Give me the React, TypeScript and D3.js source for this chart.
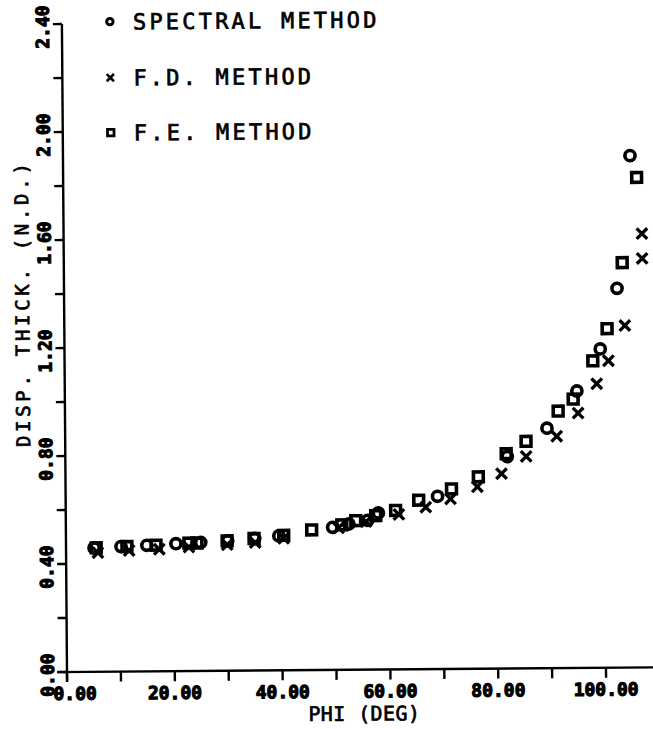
import React from "react";
import * as d3 from "d3";

const PHI_SPECTRAL = [5.2, 10.2, 15.0, 20.4, 25.0, 30.0, 35.0, 39.5, 49.5, 52.5, 56.0, 58.0, 69.0, 82.0, 89.4, 95.0, 99.4, 102.6, 105.2];
const VAL_SPECTRAL = [0.459, 0.463, 0.467, 0.472, 0.476, 0.481, 0.489, 0.498, 0.528, 0.540, 0.553, 0.580, 0.640, 0.785, 0.889, 1.026, 1.181, 1.405, 1.896];

const PHI_FD = [5.9, 11.7, 17.3, 22.8, 29.9, 35.1, 40.4, 50.6, 55.7, 61.8, 66.8, 71.4, 76.4, 80.9, 85.5, 91.2, 95.2, 98.7, 100.9, 104.0, 107.3, 107.3];
const VAL_FD = [0.441, 0.448, 0.452, 0.459, 0.467, 0.474, 0.489, 0.526, 0.548, 0.574, 0.600, 0.630, 0.674, 0.722, 0.785, 0.859, 0.944, 1.052, 1.137, 1.267, 1.515, 1.607];

const PHI_FE = [5.6, 11.3, 16.7, 22.8, 24.3, 29.9, 34.9, 40.4, 45.6, 51.2, 53.8, 57.5, 61.2, 65.5, 71.6, 76.6, 81.8, 85.5, 91.5, 94.3, 98.0, 100.7, 103.6, 106.4];
const VAL_FE = [0.459, 0.463, 0.467, 0.474, 0.474, 0.481, 0.489, 0.500, 0.519, 0.537, 0.552, 0.570, 0.589, 0.626, 0.667, 0.711, 0.796, 0.841, 0.952, 0.996, 1.137, 1.256, 1.500, 1.815];

const X_TICKS = [0, 10, 20, 30, 40, 50, 60, 70, 80, 90, 100];
const X_LABELS = ["0.00", "20.00", "40.00", "60.00", "80.00", "100.00"];
const Y_TICKS = [0, 0.2, 0.4, 0.6, 0.8, 1.0, 1.2, 1.4, 1.6, 1.8, 2.0, 2.2, 2.4];
const Y_LABELS = ["0.00", "0.40", "0.80", "1.20", "1.60", "2.00", "2.40"];

const LEGEND = ["SPECTRAL METHOD", "F.D. METHOD", "F.E. METHOD"];
const X_TITLE = "PHI (DEG)";
const Y_TITLE = "DISP. THICK. (N.D.)";

const W = 653;
const H = 729;

const x = d3.scaleLinear().domain([0, 110]).range([67, 67 + 110 * 5.39]);
const y = d3.scaleLinear().domain([0, 2.4]).range([672, 24]);

const MONO = "'DejaVu Sans Mono', 'Liberation Mono', monospace";

function Circ({ cx, cy, r = 5.1, sw = 3.6 }: any) {
  return <circle cx={cx} cy={cy} r={r} fill="none" stroke="#000" strokeWidth={sw} />;
}
function Sq({ cx, cy, s = 9.8, sw = 3.6 }: any) {
  return <rect x={cx - s / 2} y={cy - s / 2} width={s} height={s} fill="none" stroke="#000" strokeWidth={sw} />;
}
function Cross({ cx, cy, s = 5.3, sw = 3.3 }: any) {
  return (
    <g stroke="#000" strokeWidth={sw} strokeLinecap="butt">
      <line x1={cx - s} y1={cy - s} x2={cx + s} y2={cy + s} />
      <line x1={cx - s} y1={cy + s} x2={cx + s} y2={cy - s} />
    </g>
  );
}

export default function App() {
  const x0 = x(0);
  const y0 = y(0);
  return (
    <svg width={W} height={H} style={{ position: "absolute", left: 0, top: 0, background: "#fff" }}>
      <rect x={0} y={0} width={W} height={H} fill="#fff" />
      <g transform={`rotate(-0.45, ${x0}, ${y0})`}>
        {/* axes */}
        <line x1={x0 - 10} y1={y0} x2={W + 20} y2={y0} stroke="#000" strokeWidth={2.4} />
        <line x1={x0} y1={y(2.4)} x2={x0} y2={y0 + 10} stroke="#000" strokeWidth={2.4} />
        {X_TICKS.map((t) => (
          <line key={"xt" + t} x1={x(t)} x2={x(t)} y1={y0} y2={y0 + 10} stroke="#000" strokeWidth={2.4} />
        ))}
        {Y_TICKS.map((t) => (
          <line key={"yt" + t} x1={x0 - 9} x2={x0} y1={y(t)} y2={y(t)} stroke="#000" strokeWidth={2.4} />
        ))}
        {X_LABELS.map((l, i) => (
          <text
            key={"xl" + l}
            x={x(i * 20) + (i === 0 ? 8 : 0)}
            y={700}
            textAnchor="middle"
            fontFamily={MONO}
            fontWeight="bold"
            fontSize={18}
            stroke="#000"
            strokeWidth={1.1}
          >
            {l}
          </text>
        ))}
        {Y_LABELS.map((l, i) => (
          <text
            key={"yl" + l}
            transform={`translate(${x0 - 13}, ${y(i * 0.4) + 3}) rotate(-90)`}
            textAnchor="middle"
            fontFamily={MONO}
            fontWeight="bold"
            fontSize={18}
            stroke="#000"
            strokeWidth={1.1}
          >
            {l}
          </text>
        ))}
        <text x={364} y={723} textAnchor="middle" fontFamily={MONO} fontSize={20} letterSpacing={0.4} stroke="#000" strokeWidth={0.7}>
          {X_TITLE}
        </text>
        <text
          transform={`translate(32, 303) rotate(-90)`}
          textAnchor="middle"
          fontFamily={MONO}
          fontSize={19}
          letterSpacing={3.7}
          stroke="#000"
          strokeWidth={0.7}
        >
          {Y_TITLE}
        </text>

        {/* legend */}
        <Circ cx={115} cy={22} r={3.2} sw={3} />
        <Cross cx={115} cy={78} s={3.6} sw={2.6} />
        <Sq cx={115} cy={133} s={6.5} sw={2.8} />
        {LEGEND.map((l, i) => (
          <text
            key={"lg" + l}
            x={138}
            y={[30, 86, 141][i]}
            fontFamily={MONO}
            fontSize={22}
            letterSpacing={3.2}
            stroke="#000"
            strokeWidth={0.7}
          >
            {l}
          </text>
        ))}

        {/* data */}
        {PHI_FE.map((p, i) => (
          <Sq key={"fe" + i} cx={x(p)} cy={y(VAL_FE[i])} />
        ))}
        {PHI_SPECTRAL.map((p, i) => (
          <Circ key={"sp" + i} cx={x(p)} cy={y(VAL_SPECTRAL[i])} />
        ))}
        {PHI_FD.map((p, i) => (
          <Cross key={"fd" + i} cx={x(p)} cy={y(VAL_FD[i])} />
        ))}
      </g>
    </svg>
  );
}
